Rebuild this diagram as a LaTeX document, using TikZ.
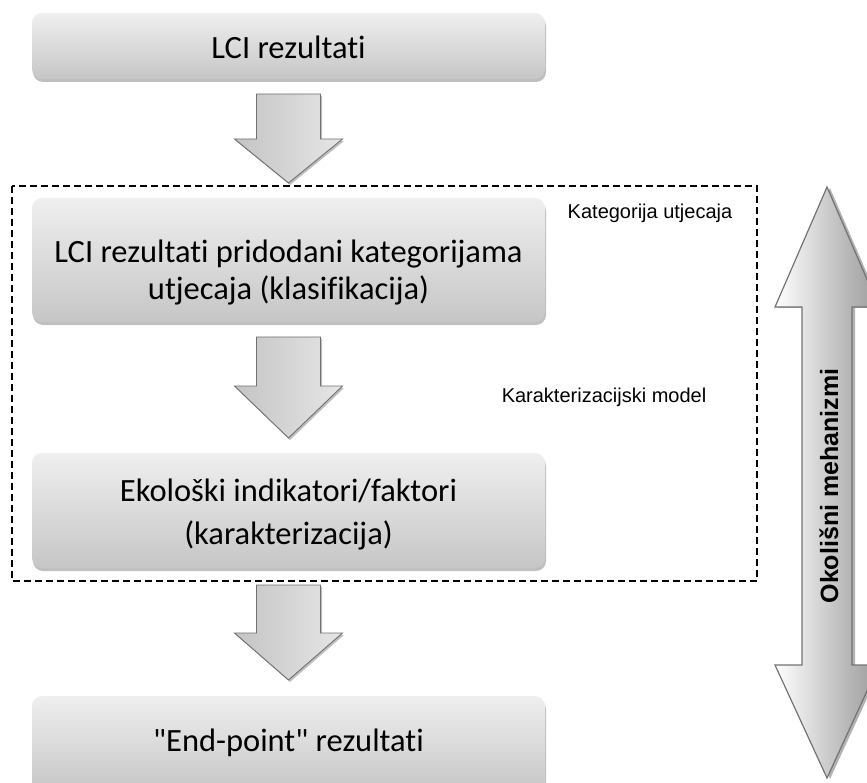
\documentclass[tikz,border=0pt]{standalone}
\usepackage{fontspec}
\newfontfamily\calib{Carlito}[Ligatures=NoCommon]
\newfontfamily\arialf{Liberation Sans}
\usetikzlibrary{shadows}
\definecolor{boxtop}{HTML}{EFEFEF}
\definecolor{boxbot}{HTML}{C6C6C6}
\definecolor{arrl}{HTML}{C4C4C4}
\definecolor{arrr}{HTML}{E6E6E6}
\definecolor{arredge}{HTML}{707070}
\tikzset{
  stagebox/.style={rounded corners=10pt, top color=boxtop, bottom color=boxbot, draw=none,
    drop shadow={shadow xshift=1pt, shadow yshift=-3pt, opacity=0.25, fill=black}},
  stagetext/.style={font=\calib\fontsize{32.5}{37}\selectfont, align=center, text=black},
  blockarrow/.style={left color=arrl, right color=arrr, draw=arredge, line width=0.9pt, line join=miter,
    drop shadow={shadow xshift=1.5pt, shadow yshift=-2pt, opacity=0.25, fill=black}},
  bigarrow/.style={left color=white, right color=black!40, draw=black!55, line width=1.2pt,
    drop shadow={shadow xshift=3pt, shadow yshift=-1pt, opacity=0.3, fill=black}},
  sidelabel/.style={font=\arialf\fontsize{20}{24}\selectfont, text=black},
  frame/.style={draw=black, line width=1.2pt, dash pattern=on 7pt off 4pt}
}
% cx, top, head base, tip
\newcommand{\blkarrow}[4]{%
  \path[blockarrow] (#1-32,#2) -- (#1+32,#2) -- (#1+32,#3) -- (#1+54,#3) -- (#1,#4) -- (#1-54,#3) -- (#1-32,#3) -- cycle;}
\begin{document}
\begin{tikzpicture}[x=1pt,y=-1pt]
\useasboundingbox (0,0) rectangle (867,783);
\clip (0,0) rectangle (867,783);

% stage boxes
\path[stagebox] (32,13) rectangle (545,79);
\node[stagetext] (b1) at (288.5,47) {LCI rezultati};

\path[stagebox] (32,198) rectangle (545,322);
\node[stagetext] (b2) at (288.5,273) {LCI rezultati pridodani kategorijama\\utjecaja (klasifikacija)};

\path[stagebox] (32,453) rectangle (545,568);
\node[stagetext] (b3) at (288.5,514) {Ekološki indikatori/faktori\\[6pt](karakterizacija)};

\path[stagebox] (32,696) rectangle (545,792);
\node[stagetext] (b4) at (288.5,743) {"End-point" rezultati};

% block arrows between stages
\blkarrow{288.5}{94}{139}{183}
\blkarrow{288.5}{337}{386}{438}
\blkarrow{288.5}{585}{633}{680}

% dashed frame
\draw[frame] (12,186) rectangle (757,581);

% labels
\node[sidelabel] (k1) at (650,213) {Kategorija utjecaja};
\node[sidelabel] (k2) at (604,397) {Karakterizacijski model};

% double arrow
\path[bigarrow] (827,187) -- (879,307) -- (852,307) -- (852,665) -- (879,665) -- (827,778)
  -- (775,665) -- (802,665) -- (802,307) -- (775,307) -- cycle;
\node[rotate=90, font=\arialf\bfseries\fontsize{25}{30}\selectfont] (okm) at (829,486) {Okolišni mehanizmi};
\end{tikzpicture}
\end{document}
